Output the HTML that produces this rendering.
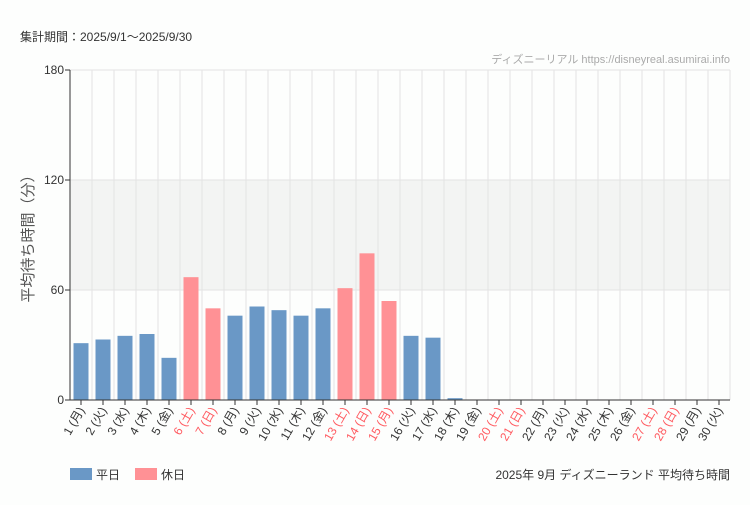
<!DOCTYPE html>
<html><head><meta charset="utf-8"><style>
body{margin:0;background:#fdfefd;font-family:"Liberation Sans","Noto Sans CJK JP",sans-serif;}
svg text{font-family:"Liberation Sans","Noto Sans CJK JP",sans-serif;}
</style></head><body>
<svg id="c" width="750" height="500" xmlns="http://www.w3.org/2000/svg">
<rect width="750" height="500" fill="#fdfefd"/>
<text x="20" y="41" font-size="12" fill="#333">集計期間：2025/9/1～2025/9/30</text>
<text x="730" y="63" font-size="11" fill="#aaa" text-anchor="end">ディズニーリアル https://disneyreal.asumirai.info</text>
<text transform="translate(33,235) rotate(-90)" font-size="15" fill="#555" text-anchor="middle">平均待ち時間（分）</text>
<g id="grid"></g><g id="bars"></g><g id="axes"></g>
<rect x="70" y="468" width="22" height="12" fill="#6a98c6"/>
<text x="96" y="479" font-size="12" fill="#333">平日</text>
<rect x="135" y="468" width="22" height="12" fill="#ff9195"/>
<text x="161" y="479" font-size="12" fill="#333">休日</text>
<text x="730" y="479" font-size="12" fill="#333" text-anchor="end">2025年 9月 ディズニーランド 平均待ち時間</text>
</svg>
<script>
const days=["1 (月)","2 (火)","3 (水)","4 (木)","5 (金)","6 (土)","7 (日)","8 (月)","9 (火)","10 (水)","11 (木)","12 (金)","13 (土)","14 (日)","15 (月)","16 (火)","17 (水)","18 (木)","19 (金)","20 (土)","21 (日)","22 (月)","23 (火)","24 (水)","25 (木)","26 (金)","27 (土)","28 (日)","29 (月)","30 (火)"];
const waits=[31,33,35,36,23,67,50,46,51,49,46,50,61,80,54,35,34,1,0,0,0,0,0,0,0,0,0,0,0,0];
const holidays=[0,0,0,0,0,1,1,0,0,0,0,0,1,1,1,0,0,0,0,1,1,0,0,0,0,0,1,1,0,0];
const yTicks=[0,60,120,180];
const NS="http://www.w3.org/2000/svg";
const X0=70,X1=730,Y0=400,Y1=70,YMAX=180;
const step=(X1-X0)/days.length;
const y=v=>Y0-(v/YMAX)*(Y0-Y1);
const xc=i=>X0+step*(i+0.5);
function mk(t,a,p){const e=document.createElementNS(NS,t);for(const k in a)e.setAttribute(k,a[k]);p.appendChild(e);return e;}
const g=document.getElementById('grid'),b=document.getElementById('bars'),ax=document.getElementById('axes');
const band=mk('rect',{x:X0,y:y(120),width:X1-X0,height:y(60)-y(120),fill:'#f3f4f3'},g);


for(let i=0;i<=days.length;i++){const l=mk('line',{x1:X0+step*i,x2:X0+step*i,y1:Y1,y2:Y0,stroke:'#e3e3e3'},g);

}
yTicks.forEach(t=>{const l=mk('line',{x1:X0,x2:X1,y1:y(t),y2:y(t),stroke:'#e3e3e3'},g);


const tk=mk('line',{x1:X0-5,x2:X0,y1:y(t),y2:y(t),stroke:'#333'},ax);


const tx=mk('text',{x:X0-6,y:y(t)+4,'font-size':12,fill:'#333','text-anchor':'end'},ax);tx.textContent=t;

});
waits.forEach((v,i)=>{const r=mk('rect',{x:xc(i)-7.5,y:y(v),width:15,height:Y0-y(v),fill:holidays[i]?'#ff9195':'#6a98c6'},b);

});
mk('line',{x1:X0,x2:X0,y1:Y1,y2:Y0,stroke:'#333'},ax);
mk('line',{x1:X0,x2:X1,y1:Y0,y2:Y0,stroke:'#333'},ax);
days.forEach((d,i)=>{const tk=mk('line',{x1:xc(i),x2:xc(i),y1:Y0,y2:Y0+5,stroke:'#333'},ax);


const tx=mk('text',{transform:`translate(${xc(i)+4},${Y0+10}) rotate(-60)`,'font-size':12,fill:holidays[i]?'#ff5a60':'#333','text-anchor':'end'},ax);tx.textContent=d;

});
</script>
</body></html>
